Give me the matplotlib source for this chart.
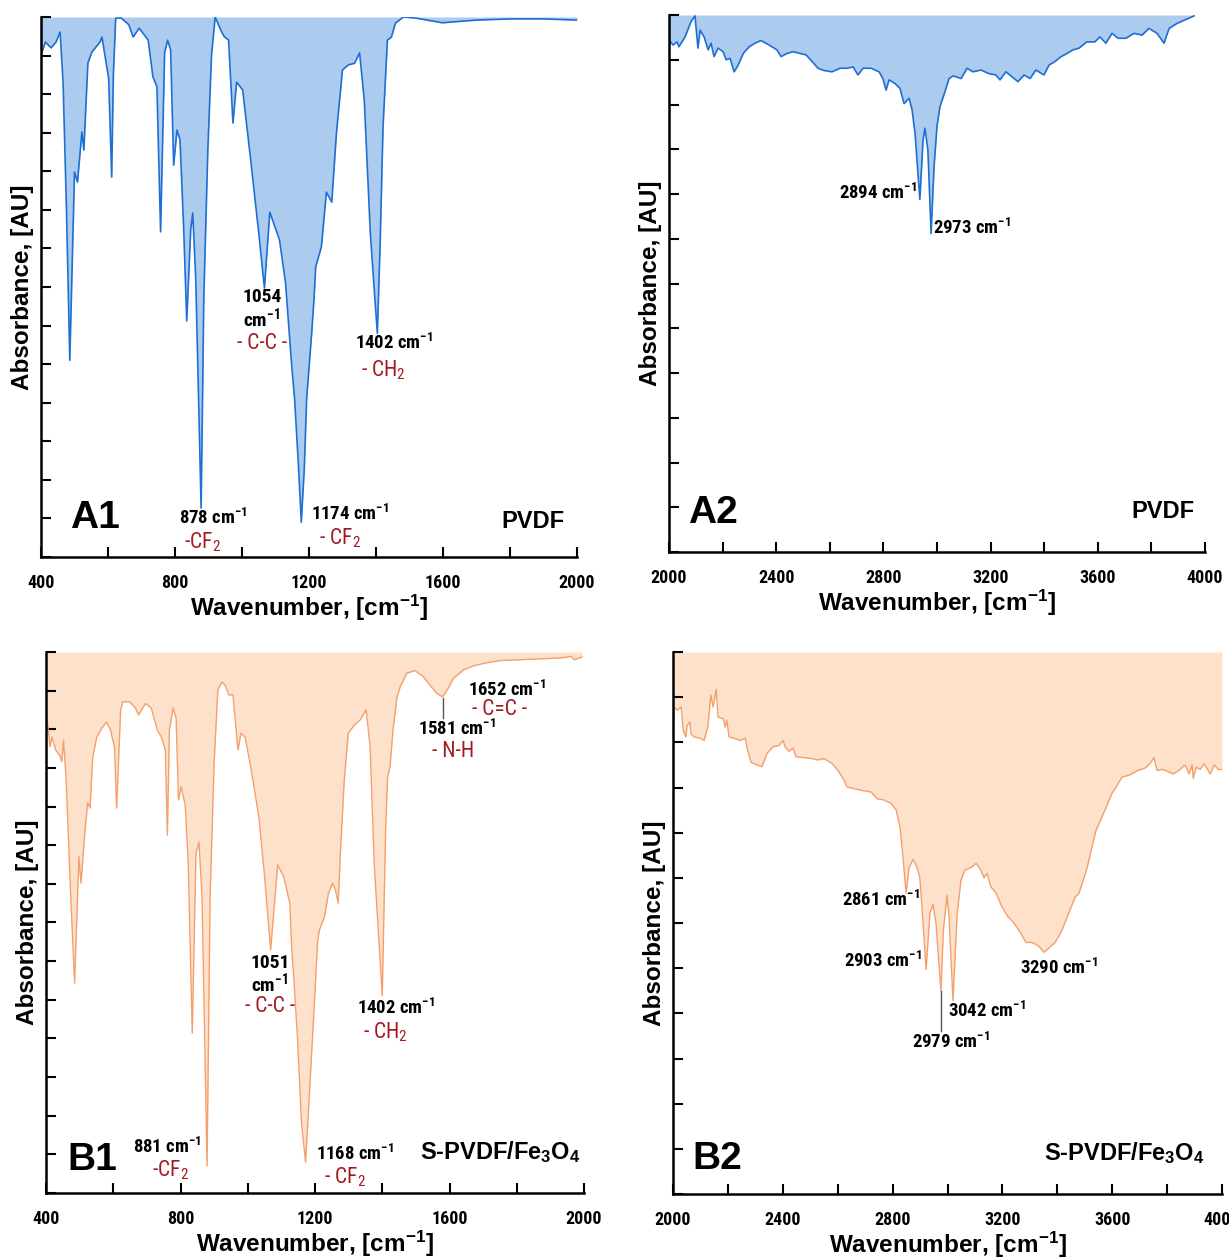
import matplotlib
matplotlib.use('Agg')
import matplotlib.pyplot as plt
from matplotlib import font_manager
from matplotlib.ticker import MultipleLocator

_names = {f.name for f in font_manager.fontManager.ttflist}
NARROW = 'Liberation Sans'
for _cand in ('Liberation Sans Narrow', 'Arial Narrow', 'Roboto Condensed', 'Open Sans Condensed'):
    if _cand in _names:
        NARROW = _cand
        break
WIDE = 'Liberation Sans'

plt.rcParams['font.family'] = [WIDE, 'DejaVu Sans']
plt.rcParams['mathtext.fontset'] = 'custom'
plt.rcParams['mathtext.rm'] = NARROW
plt.rcParams['mathtext.it'] = NARROW + ':italic'
plt.rcParams['mathtext.sf'] = NARROW + ':bold'
plt.rcParams['mathtext.bf'] = WIDE + ':bold'

# ---------------- data (wavenumber, signal depth from top) ----------------
a1_wn = [400, 413, 430, 445, 457, 466, 476, 486, 500, 509, 522, 528, 540, 552, 576, 582,
         602, 611, 616, 623, 640, 662, 675, 693, 720, 734, 746, 757, 769, 778, 787, 796,
         806, 815, 826, 835, 847, 853, 862, 878, 886, 898, 909, 920, 939, 948, 960, 973,
         984, 1002, 1026, 1050, 1067, 1083, 1112, 1130, 1148, 1157, 1169, 1177, 1186, 1193,
         1208, 1215, 1220, 1237, 1252, 1268, 1282, 1300, 1318, 1336, 1351, 1365, 1383, 1404,
         1412, 1421, 1434, 1446, 1458, 1482, 1520, 1598, 1700, 1800, 1900, 2000]
a1_val = [0.99, 0.65, 0.80, 0.65, 0.39, 1.71, 5.0, 8.9, 4.02, 4.28, 2.98, 3.45, 1.19, 0.91, 0.65, 0.52,
          1.6, 4.15, 1.5, 0.03, 0.03, 0.2, 0.52, 0.29, 0.6, 1.55, 1.81, 5.57, 0.93, 0.6, 0.86, 3.84,
          2.93, 3.19, 5.5, 7.88, 5.5, 5.08, 6.8, 12.73, 7.3, 3.45, 0.99, 0.0, 0.39, 0.52, 0.6, 2.75,
          1.69, 1.89, 3.71, 5.6, 7.03, 5.06, 5.78, 6.9, 9.0, 9.9, 11.7, 13.1, 11.7, 9.9,
          8.2, 7.3, 6.48, 5.96, 4.54, 4.8, 3.0, 1.37, 1.24, 1.2, 0.93, 2.15, 5.6, 8.2,
          6.0, 2.85, 0.6, 0.52, 0.16, 0.0, 0.03, 0.15, 0.08, 0.05, 0.05, 0.08]

a2_wn = [2000, 2015, 2030, 2037, 2060, 2082, 2097, 2108, 2116, 2131, 2146, 2157, 2168, 2183,
         2202, 2213, 2228, 2243, 2258, 2277, 2299, 2321, 2343, 2373, 2403, 2418, 2440, 2463,
         2489, 2511, 2534, 2556, 2578, 2608, 2638, 2664, 2687, 2705, 2724, 2754, 2784, 2798,
         2810, 2821, 2843, 2862, 2877, 2896, 2907, 2918, 2936, 2948, 2955, 2966, 2978, 2989,
         3000, 3011, 3030, 3045, 3060, 3090, 3112, 3134, 3164, 3194, 3220, 3235, 3257, 3280,
         3302, 3325, 3347, 3369, 3399, 3418, 3440, 3463, 3485, 3507, 3530, 3559, 3589, 3608,
         3630, 3653, 3675, 3705, 3735, 3765, 3791, 3821, 3847, 3866, 3895, 3925, 3959]
a2_val = [0.56, 0.67, 0.6, 0.71, 0.49, 0.15, 0.02, 0.74, 0.34, 0.49, 0.78, 0.63, 0.93, 0.74,
          0.82, 1.0, 0.97, 1.27, 1.12, 0.86, 0.71, 0.63, 0.57, 0.67, 0.78, 0.93, 0.86, 0.82,
          0.86, 0.89, 1.04, 1.19, 1.24, 1.27, 1.19, 1.19, 1.16, 1.34, 1.19, 1.19, 1.27, 1.42,
          1.68, 1.45, 1.53, 1.64, 1.98, 1.86, 2.12, 2.64, 4.12, 2.79, 2.53, 3.02, 4.88, 3.39,
          2.49, 2.05, 1.71, 1.42, 1.36, 1.42, 1.19, 1.27, 1.23, 1.31, 1.34, 1.45, 1.27, 1.38,
          1.49, 1.34, 1.42, 1.23, 1.34, 1.12, 1.04, 0.93, 0.86, 0.78, 0.74, 0.6, 0.6, 0.49,
          0.63, 0.41, 0.52, 0.52, 0.41, 0.45, 0.3, 0.41, 0.63, 0.3, 0.19, 0.11, 0.02]

b1_wn = [403, 412, 418, 429, 441, 447, 452, 460, 472, 485, 498, 504, 516, 524, 531, 539,
         551, 566, 580, 592, 604, 610, 622, 628, 649, 666, 675, 696, 713, 731, 743, 755,
         761, 767, 778, 787, 794, 802, 814, 823, 835, 846, 855, 864, 879, 888, 900, 911,
         923, 932, 944, 956, 962, 971, 980, 992, 1009, 1033, 1050, 1068, 1089, 1107, 1125,
         1131, 1136, 1148, 1160, 1172, 1181, 1195, 1208, 1213, 1219, 1228, 1240, 1252, 1261,
         1269, 1275, 1287, 1299, 1317, 1334, 1352, 1364, 1376, 1400, 1410, 1416, 1423, 1432,
         1444, 1453, 1473, 1497, 1521, 1541, 1562, 1579, 1591, 1612, 1642, 1671, 1704, 1751,
         1810, 1890, 1937, 1961, 1971, 1994]
b1_val = [1.71, 2.45, 2.2, 2.54, 2.67, 2.84, 2.28, 3.3, 6.0, 8.57, 5.3, 5.98, 4.6, 3.9, 4.04, 2.72,
          2.2, 1.97, 1.81, 2.02, 2.48, 4.04, 1.5, 1.29, 1.29, 1.45, 1.63, 1.33, 1.45, 2.02, 2.2, 2.54,
          4.74, 2.02, 1.45, 1.71, 3.83, 3.49, 3.96, 5.46, 9.86, 5.2, 4.92, 6.34, 13.3, 6.34, 2.87, 0.98,
          0.78, 0.85, 1.11, 1.11, 1.68, 2.54, 2.1, 2.2, 2.98, 4.27, 5.8, 7.71, 5.51, 5.82, 6.5,
          7.7, 8.3, 10.0, 12.2, 13.2, 11.8, 9.6, 7.45, 7.2, 7.05, 6.86, 6.25, 5.98, 6.16,
          6.5, 5.3, 3.31, 2.1, 1.89, 1.76, 1.5, 2.45, 5.46, 8.9, 4.6, 3.23, 2.98, 2.02,
          1.16, 0.91, 0.55, 0.48, 0.63, 0.85, 1.07, 1.16, 1.02, 0.68, 0.46, 0.36, 0.29, 0.22,
          0.2, 0.17, 0.15, 0.11, 0.2, 0.13]

b2_wn = [2000, 2004, 2015, 2030, 2037, 2047, 2051, 2062, 2065, 2076, 2099, 2113, 2127, 2138,
         2146, 2157, 2164, 2183, 2190, 2196, 2204, 2222, 2244, 2263, 2270, 2284, 2306, 2324,
         2343, 2364, 2386, 2401, 2408, 2423, 2437, 2448, 2477, 2506, 2528, 2550, 2580, 2601,
         2623, 2634, 2663, 2692, 2722, 2743, 2765, 2794, 2813, 2827, 2838, 2849, 2860, 2875,
         2889, 2899, 2907, 2922, 2936, 2947, 2958, 2976, 2985, 2998, 3005, 3020, 3035, 3049,
         3063, 3086, 3104, 3119, 3133, 3144, 3158, 3177, 3199, 3220, 3242, 3264, 3286, 3308,
         3330, 3352, 3370, 3392, 3414, 3436, 3450, 3465, 3479, 3494, 3509, 3523, 3541, 3562,
         3578, 3599, 3614, 3636, 3665, 3694, 3720, 3738, 3752, 3763, 3785, 3807, 3822, 3843,
         3865, 3880, 3891, 3895, 3906, 3920, 3935, 3957, 3972, 3986, 4000]
b2_val = [1.8, 1.22, 1.29, 1.22, 1.73, 1.88, 1.63, 1.55, 1.8, 1.88, 1.91, 1.96, 1.66, 0.95,
          1.22, 0.83, 1.44, 1.48, 1.66, 1.51, 1.88, 1.91, 1.96, 1.91, 2.13, 2.44, 2.5, 2.54,
          2.24, 2.1, 2.07, 1.96, 2.1, 2.2, 2.13, 2.32, 2.34, 2.36, 2.39, 2.36, 2.47, 2.62,
          2.84, 2.99, 3.03, 3.07, 3.1, 3.25, 3.27, 3.35, 3.5, 3.88, 4.55, 5.34, 4.77, 4.59,
          4.77, 4.99, 5.65, 7.03, 5.79, 5.59, 6.0, 7.5, 6.16, 5.39, 5.8, 7.72, 5.8, 5.06,
          4.83, 4.77, 4.68, 4.8, 5.0, 4.9, 5.2, 5.34, 5.65, 5.86, 6.0, 6.2, 6.43, 6.43,
          6.5, 6.65, 6.55, 6.43, 6.2, 5.87, 5.65, 5.43, 5.34, 5.06, 4.77, 4.4, 3.95, 3.66,
          3.44, 3.13, 2.99, 2.77, 2.72, 2.62, 2.57, 2.47, 2.34, 2.62, 2.6, 2.66, 2.7, 2.62,
          2.5, 2.7, 2.5, 2.8, 2.55, 2.6, 2.47, 2.7, 2.5, 2.6, 2.6]

x_ticks_low = [400, 800, 1200, 1600, 2000]
x_ticks_high = [2000, 2400, 2800, 3200, 3600, 4000]

BLUE_LINE, BLUE_FILL = '#1f6fd3', '#abcbef'
ORANGE_LINE, ORANGE_FILL = '#f5a06c', '#fde1cb'
RED = '#a21a1f'

W, H = 1229, 1258
fig = plt.figure(figsize=(W / 100, H / 100), dpi=100)

def px_axes(l, t, r, b):
    return fig.add_axes([l / W, 1 - b / H, (r - l) / W, (b - t) / H])

axA1 = px_axes(41, 17, 577, 557)
axA2 = px_axes(669, 15, 1205, 552)
axB1 = px_axes(46, 652, 584, 1193)
axB2 = px_axes(673, 652, 1222, 1194)

def style(ax, xlim, ymax, xticks):
    ax.set_xlim(*xlim)
    ax.set_ylim(ymax, 0)
    for s in ('top', 'right'):
        ax.spines[s].set_visible(False)
    for s in ('left', 'bottom'):
        ax.spines[s].set_linewidth(1.8)
    ax.set_xticks(xticks)
    ax.xaxis.set_minor_locator(MultipleLocator(200))
    ax.yaxis.set_major_locator(MultipleLocator(1))
    ax.tick_params(which='both', direction='in', length=7, width=1.5, left=True, bottom=True)
    ax.tick_params(axis='y', labelleft=False)
    ax.tick_params(axis='x', pad=12.5)
    for lab in ax.get_xticklabels():
        lab.set_fontfamily(NARROW)
        lab.set_fontweight('bold')
        lab.set_fontsize(13)
    ax.set_xlabel(r'Wavenumber, [cm$^{\mathbf{-1}}$]', fontsize=17.5, fontweight='bold', labelpad=0)
    ax.set_ylabel('Absorbance, [AU]', fontsize=17.5, fontweight='bold', labelpad=5)

def spectrum(ax, wn, val, line, fill, lw):
    ax.fill_between(wn, 0, val, color=fill, lw=0, zorder=1)
    ax.plot(wn, val, color=line, lw=lw, zorder=2)

def num(ax, x, y, s, ha='center'):
    ax.text(x, y, s + r' cm$^{\mathsf{-1}}$', fontfamily=NARROW, fontweight='bold',
            fontsize=13.5, ha=ha, va='center', zorder=5)

def grp(ax, x, y, s, ha='center'):
    ax.text(x, y, s, fontfamily=NARROW, fontsize=15.5, color=RED, ha=ha, va='center', zorder=5)

def stacked(ax, x, y_num, y_unit, s):
    ax.text(x, y_num, s, fontfamily=NARROW, fontweight='bold', fontsize=14, ha='center', va='center')
    ax.text(x, y_unit, r'cm$^{\mathsf{-1}}$', fontfamily=NARROW, fontweight='bold', fontsize=14,
            ha='center', va='center')

# ---- A1 ----
spectrum(axA1, a1_wn, a1_val, BLUE_LINE, BLUE_FILL, 1.2)
style(axA1, (400, 2000), 14, x_ticks_low)
stacked(axA1, 1059, 7.25, 7.82, '1054')
grp(axA1, 1059, 8.47, '- C-C -')
num(axA1, 1455, 8.45, '1402')
grp(axA1, 1422, 9.15, r'- CH$_2$')
num(axA1, 913, 13.0, '878')
grp(axA1, 883, 13.62, r'-CF$_2$')
num(axA1, 1321, 12.88, '1174')
grp(axA1, 1291, 13.5, r'- CF$_2$')
axA1.text(0.054, 0.073, 'A1', transform=axA1.transAxes, fontsize=28, fontweight='bold', ha='left', va='center')
axA1.text(0.976, 0.065, 'PVDF', transform=axA1.transAxes, fontsize=17, fontweight='bold', ha='right', va='center')

# ---- A2 ----
spectrum(axA2, a2_wn, a2_val, BLUE_LINE, BLUE_FILL, 1.2)
style(axA2, (2000, 4000), 12, x_ticks_high)
num(axA2, 2925, 3.98, '2894', ha='right')
num(axA2, 2985, 4.76, '2973', ha='left')
axA2.text(0.035, 0.073, 'A2', transform=axA2.transAxes, fontsize=28, fontweight='bold', ha='left', va='center')
axA2.text(0.981, 0.076, 'PVDF', transform=axA2.transAxes, fontsize=17, fontweight='bold', ha='right', va='center')

# ---- B1 ----
spectrum(axB1, b1_wn, b1_val, ORANGE_LINE, ORANGE_FILL, 1.0)
style(axB1, (400, 2000), 14, x_ticks_low)
num(axB1, 1655, 0.98, '1652', ha='left')
grp(axB1, 1750, 1.5, '- C=C -')
axB1.plot([1581, 1581], [1.19, 1.71], color='#555555', lw=1.0, zorder=4)
num(axB1, 1622, 2.0, '1581')
grp(axB1, 1610, 2.58, '- N-H')
stacked(axB1, 1066, 8.05, 8.58, '1051')
grp(axB1, 1066, 9.17, '- C-C -')
num(axB1, 1441, 9.22, '1402')
grp(axB1, 1408, 9.85, r'- CH$_2$')
num(axB1, 760, 12.82, '881')
grp(axB1, 769, 13.42, r'-CF$_2$')
num(axB1, 1319, 13.0, '1168')
grp(axB1, 1289, 13.6, r'- CF$_2$')
axB1.text(0.039, 0.061, 'B1', transform=axB1.transAxes, fontsize=28, fontweight='bold', ha='left', va='center')
axB1.text(0.993, 0.076, r'S-PVDF/Fe$_\mathbf{3}$O$_\mathbf{4}$', transform=axB1.transAxes,
          fontsize=17, fontweight='bold', ha='right', va='center')

# ---- B2 ----
spectrum(axB2, b2_wn, b2_val, ORANGE_LINE, ORANGE_FILL, 1.0)
style(axB2, (2000, 4000), 12, x_ticks_high)
num(axB2, 2900, 5.48, '2861', ha='right')
num(axB2, 2907, 6.85, '2903', ha='right')
num(axB2, 3264, 6.99, '3290', ha='left')
num(axB2, 3002, 7.94, '3042', ha='left')
axB2.plot([2976, 2976], [7.5, 8.39], color='#555555', lw=1.0, zorder=4)
num(axB2, 2871, 8.63, '2979', ha='left')
axB2.text(0.036, 0.065, 'B2', transform=axB2.transAxes, fontsize=28, fontweight='bold', ha='left', va='center')
axB2.text(0.969, 0.076, r'S-PVDF/Fe$_\mathbf{3}$O$_\mathbf{4}$', transform=axB2.transAxes,
          fontsize=17, fontweight='bold', ha='right', va='center')

fig.savefig('out.png', dpi=100)
